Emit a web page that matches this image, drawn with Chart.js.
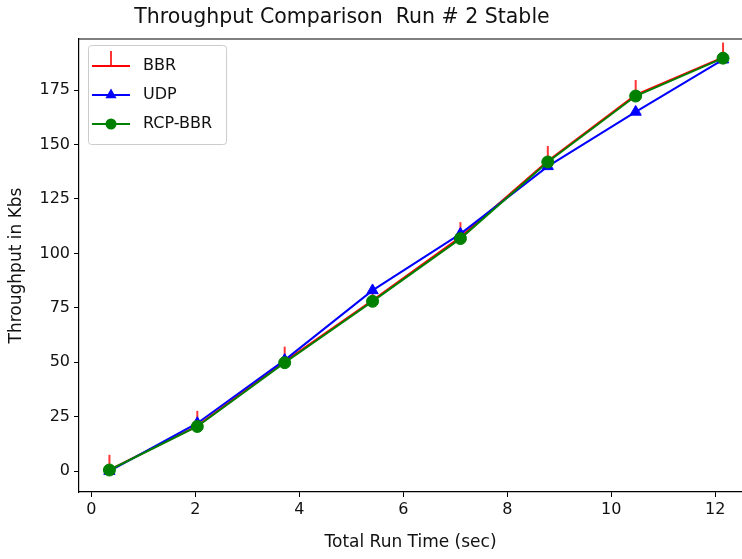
<!DOCTYPE html>
<html>
<head>
<meta charset="utf-8">
<title>Throughput Comparison</title>
<script src="https://cdn.jsdelivr.net/npm/chart.js@4.4.1/dist/chart.umd.min.js"></script>
<style>
  html, body { margin: 0; padding: 0; background: #fff; overflow: hidden; }
  #chart { display: block; }
</style>
</head>
<body>
<canvas id="chart" width="742" height="559"></canvas>
<script>
// run time (sec) at each sample
const runTimes = [0.35, 2.04, 3.72, 5.41, 7.1, 8.78, 10.47, 12.15];

// throughput in Kbs
const bbr = [0.6, 20.8, 50.3, 78.5, 107.5, 142.5, 172.8, 190.0];
const udp = [0, 22, 51, 83, 109, 140, 165, 189];
const rcpBbr = [0.5, 20.5, 49.8, 78, 106.8, 142, 172.3, 189.7];

const xTicks = [0, 2, 4, 6, 8, 10, 12];
const yTicks = [0, 25, 50, 75, 100, 125, 150, 175];

const titleText = "Throughput Comparison  Run # 2 Stable";
const fontFamily = "'DejaVu Sans', sans-serif";

function toPoints(values) {
  return values.map((v, i) => ({ x: runTimes[i], y: v }));
}

// matplotlib "tickup" marker: a short vertical stroke above the point
function tickUpMarker() {
  const c = document.createElement("canvas");
  c.width = 4;
  c.height = 34;
  const g = c.getContext("2d");
  g.strokeStyle = "#ff0000";
  g.lineWidth = 1.6;
  g.beginPath();
  g.moveTo(2, 2);
  g.lineTo(2, 17);
  g.stroke();
  return c;
}

// legend swatch: line with the marker in the middle
function legendSwatch(color, marker) {
  const c = document.createElement("canvas");
  c.width = 43;
  c.height = 34;
  const g = c.getContext("2d");
  g.strokeStyle = color;
  g.fillStyle = color;
  g.lineWidth = 1.8;
  g.beginPath();
  g.moveTo(0, 17);
  g.lineTo(38, 17);
  g.stroke();
  const cx = 19, cy = 17;
  if (marker === "tick") {
    g.lineWidth = 1.6;
    g.beginPath();
    g.moveTo(cx, cy);
    g.lineTo(cx, cy - 15);
    g.stroke();
  } else if (marker === "triangle") {
    g.beginPath();
    g.moveTo(cx, cy - 6.5);
    g.lineTo(cx + 5.6, cy + 3.3);
    g.lineTo(cx - 5.6, cy + 3.3);
    g.closePath();
    g.fill();
  } else {
    g.beginPath();
    g.arc(cx, cy, 5.5, 0, Math.PI * 2);
    g.fill();
  }
  return c;
}

const swatches = [
  legendSwatch("#ff0000", "tick"),
  legendSwatch("#0000ff", "triangle"),
  legendSwatch("#008000", "circle"),
];

const framePlugin = {
  id: "frame",
  afterLayout(chart) {
    // chartArea legends get top reset to 0, put it back inside the axes
    const lg = chart.legend;
    const h = lg.bottom - lg.top;
    lg.top = chart.chartArea.top + 6;
    lg.bottom = lg.top + h;
  },
  beforeDatasetsDraw(chart) {
    const { ctx } = chart;
    const boxes = chart.legend.legendHitBoxes;
    if (boxes && boxes.length) {
      const first = boxes[0];
      const last = boxes[boxes.length - 1];
      let right = 0;
      boxes.forEach((b) => { right = Math.max(right, b.left + b.width); });
      const x0 = first.left - 4;
      const y0 = first.top - 13;
      const x1 = right + 14;
      const y1 = last.top + last.height + 12;
      ctx.save();
      ctx.strokeStyle = "#cccccc";
      ctx.lineWidth = 1;
      ctx.beginPath();
      ctx.roundRect(x0 + 0.5, y0 + 0.5, x1 - x0, y1 - y0, 3);
      ctx.stroke();
      ctx.restore();
    }
  },
  afterDraw(chart) {
    const { ctx, chartArea } = chart;
    ctx.save();
    // top spine
    ctx.strokeStyle = "#000";
    ctx.lineWidth = 1.2;
    ctx.beginPath();
    ctx.moveTo(chartArea.left, chartArea.top);
    ctx.lineTo(chartArea.right, chartArea.top);
    ctx.stroke();
    // title
    ctx.fillStyle = "#111";
    ctx.font = "20.5px " + fontFamily;
    ctx.textAlign = "center";
    ctx.textBaseline = "middle";
    ctx.fillText(titleText, 342, 18);
    ctx.restore();
  },
};

const tickFont = { family: fontFamily, size: 16 };

new Chart(document.getElementById("chart"), {
  type: "line",
  data: {
    datasets: [
      {
        label: "BBR",
        data: toPoints(bbr),
        borderColor: "#ff0000",
        backgroundColor: "#ff0000",
        borderWidth: 2,
        pointStyle: tickUpMarker(),
        pointRadius: 3,
        order: 3,
      },
      {
        label: "UDP",
        data: toPoints(udp),
        borderColor: "#0000ff",
        backgroundColor: "#0000ff",
        borderWidth: 2,
        pointStyle: "triangle",
        pointRadius: 6.5,
        pointBorderWidth: 1,
        order: 2,
      },
      {
        label: "RCP-BBR",
        data: toPoints(rcpBbr),
        borderColor: "#008000",
        backgroundColor: "#008000",
        borderWidth: 2,
        pointStyle: "circle",
        pointRadius: 6,
        pointBorderWidth: 1,
        order: 1,
      },
    ],
  },
  options: {
    responsive: false,
    animation: false,
    devicePixelRatio: 1,
    layout: { autoPadding: false, padding: { top: 39, right: 0, left: 0, bottom: 0 } },
    elements: { line: { tension: 0 } },
    plugins: {
      title: { display: false },
      tooltip: { enabled: false },
      legend: {
        position: "chartArea",
        align: "start",
        labels: {
          usePointStyle: true,
          pointStyleWidth: 43,
          padding: 13,
          color: "#111",
          font: { family: fontFamily, size: 16 },
          generateLabels(chart) {
            const items = Chart.defaults.plugins.legend.labels.generateLabels(chart);
            items.forEach((item) => { item.pointStyle = swatches[item.datasetIndex]; });
            return items;
          },
          sort: (a, b) => a.datasetIndex - b.datasetIndex,
        },
      },
    },
    scales: {
      x: {
        type: "linear",
        min: -0.235,
        max: 12.515,
        afterBuildTicks(scale) {
          scale.ticks = xTicks.map((v) => ({ value: v }));
        },
        afterFit(scale) {
          scale.height = 67;
          scale.paddingLeft = 0;
          scale.paddingRight = 0;
        },
        grid: {
          display: true,
          drawOnChartArea: false,
          drawTicks: true,
          tickLength: 5,
          tickColor: "#000",
        },
        border: { display: true, color: "#000", width: 1.2 },
        ticks: { color: "#111", font: tickFont, padding: 3, maxRotation: 0 },
        title: {
          display: true,
          text: "Total Run Time (sec)",
          color: "#111",
          font: { family: fontFamily, size: 17 },
          padding: { top: 0, bottom: 6 },
        },
      },
      y: {
        type: "linear",
        min: -9.6,
        max: 198.5,
        afterBuildTicks(scale) {
          scale.ticks = yTicks.map((v) => ({ value: v }));
        },
        afterFit(scale) {
          scale.width = 79;
          scale.paddingTop = 0;
          scale.paddingBottom = 0;
        },
        grid: {
          display: true,
          drawOnChartArea: false,
          drawTicks: true,
          tickLength: 5,
          tickColor: "#000",
        },
        border: { display: true, color: "#000", width: 1.2 },
        ticks: { color: "#111", font: tickFont, padding: 4 },
        title: {
          display: true,
          text: "Throughput in Kbs",
          color: "#111",
          font: { family: fontFamily, size: 17 },
          padding: { top: 6, bottom: 0 },
        },
      },
    },
  },
  plugins: [framePlugin],
});
</script>
</body>
</html>
